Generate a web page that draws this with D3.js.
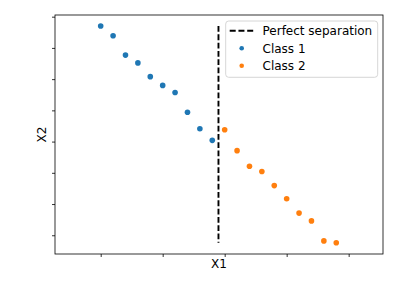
<!DOCTYPE html>
<html>
<head>
<meta charset="utf-8">
<script src="https://cdn.jsdelivr.net/npm/d3@7"></script>
<style>
  body { margin: 0; background: #fff; }
  text { font-family: "DejaVu Sans", sans-serif; }
</style>
</head>
<body>
<script>
const class1X = [0, 1, 2, 3, 4, 5, 6, 7, 8, 9];
const class1Y = [6.70, 6.39, 5.77, 5.52, 5.08, 4.80, 4.57, 3.94, 3.41, 3.04];
const class2X = [10, 11, 12, 13, 14, 15, 16, 17, 18, 19];
const class2Y = [3.38, 2.71, 2.21, 2.04, 1.59, 1.17, 0.71, 0.46, -0.18, -0.24];
const separationX = 9.5;
const xTicks = [0, 5, 10, 15, 20];
const yTicks = [0, 1, 2, 3, 4, 5, 6, 7];
const seriesNames = ["Class 1", "Class 2"];
const colors = ["#1f77b4", "#ff7f0e"];
const lineName = "Perfect separation";

const W = 399, H = 285;
const L = 55, R = 383, T = 15, B = 254;

const svg = d3.select("body").append("svg").attr("width", W).attr("height", H);

const x = d3.scaleLinear().domain([-3.685, 22.77]).range([L, R]);
const y = d3.scaleLinear().domain([-0.6, 7.054]).range([B, T]);

// axes
svg.append("g").attr("transform", `translate(0,${B})`)
  .call(d3.axisBottom(x).tickValues(xTicks).tickFormat("").tickSize(3).tickSizeOuter(0))
  .call(g => g.select(".domain").remove())
  .call(g => g.selectAll("line").attr("stroke", "#000").attr("stroke-width", 0.8));
svg.append("g").attr("transform", `translate(${L},0)`)
  .call(d3.axisLeft(y).tickValues(yTicks).tickFormat("").tickSize(3).tickSizeOuter(0))
  .call(g => g.select(".domain").remove())
  .call(g => g.selectAll("line").attr("stroke", "#000").attr("stroke-width", 0.8));

svg.append("rect").attr("x", L).attr("y", T).attr("width", R - L).attr("height", B - T)
  .attr("fill", "none").attr("stroke", "#000").attr("stroke-width", 0.8);

// separation line
const allY = class1Y.concat(class2Y);
svg.append("line")
  .attr("x1", x(separationX)).attr("x2", x(separationX))
  .attr("y1", y(d3.max(allY))).attr("y2", y(d3.min(allY)))
  .attr("stroke", "#000").attr("stroke-width", 1.9).attr("stroke-dasharray", "5.8,2.5");

// points
const series = [
  class1X.map((d, i) => [d, class1Y[i]]),
  class2X.map((d, i) => [d, class2Y[i]])
];
series.forEach((pts, k) => {
  svg.append("g").selectAll("circle").data(pts).join("circle")
    .attr("cx", d => x(d[0])).attr("cy", d => y(d[1])).attr("r", 2.8)
    .attr("fill", colors[k]);
});

// axis labels
svg.append("text").attr("x", (L + R) / 2).attr("y", 267.5).attr("text-anchor", "middle")
  .attr("font-size", 12).text("X1");
svg.append("text").attr("transform", `translate(46,${(T + B) / 2}) rotate(-90)`)
  .attr("text-anchor", "middle").attr("font-size", 12).text("X2");

// legend
const lg = svg.append("g");
lg.append("rect").attr("x", 225.7).attr("y", 21).attr("width", 152).attr("height", 56.3)
  .attr("rx", 3).attr("fill", "#fff").attr("fill-opacity", 0.8)
  .attr("stroke", "#cccccc").attr("stroke-width", 0.8);
lg.append("line").attr("x1", 229.7).attr("x2", 253.2).attr("y1", 30.7).attr("y2", 30.7)
  .attr("stroke", "#000").attr("stroke-width", 1.9).attr("stroke-dasharray", "6,2.75");
lg.append("text").attr("x", 262.5).attr("y", 35).attr("font-size", 12).text(lineName);
seriesNames.forEach((name, k) => {
  const cy = 48.3 + k * 17.4;
  lg.append("circle").attr("cx", 241.7).attr("cy", cy).attr("r", 2.3).attr("fill", colors[k]);
  lg.append("text").attr("x", 262.5).attr("y", cy + 4.3).attr("font-size", 12).text(name);
});
</script>
</body>
</html>
